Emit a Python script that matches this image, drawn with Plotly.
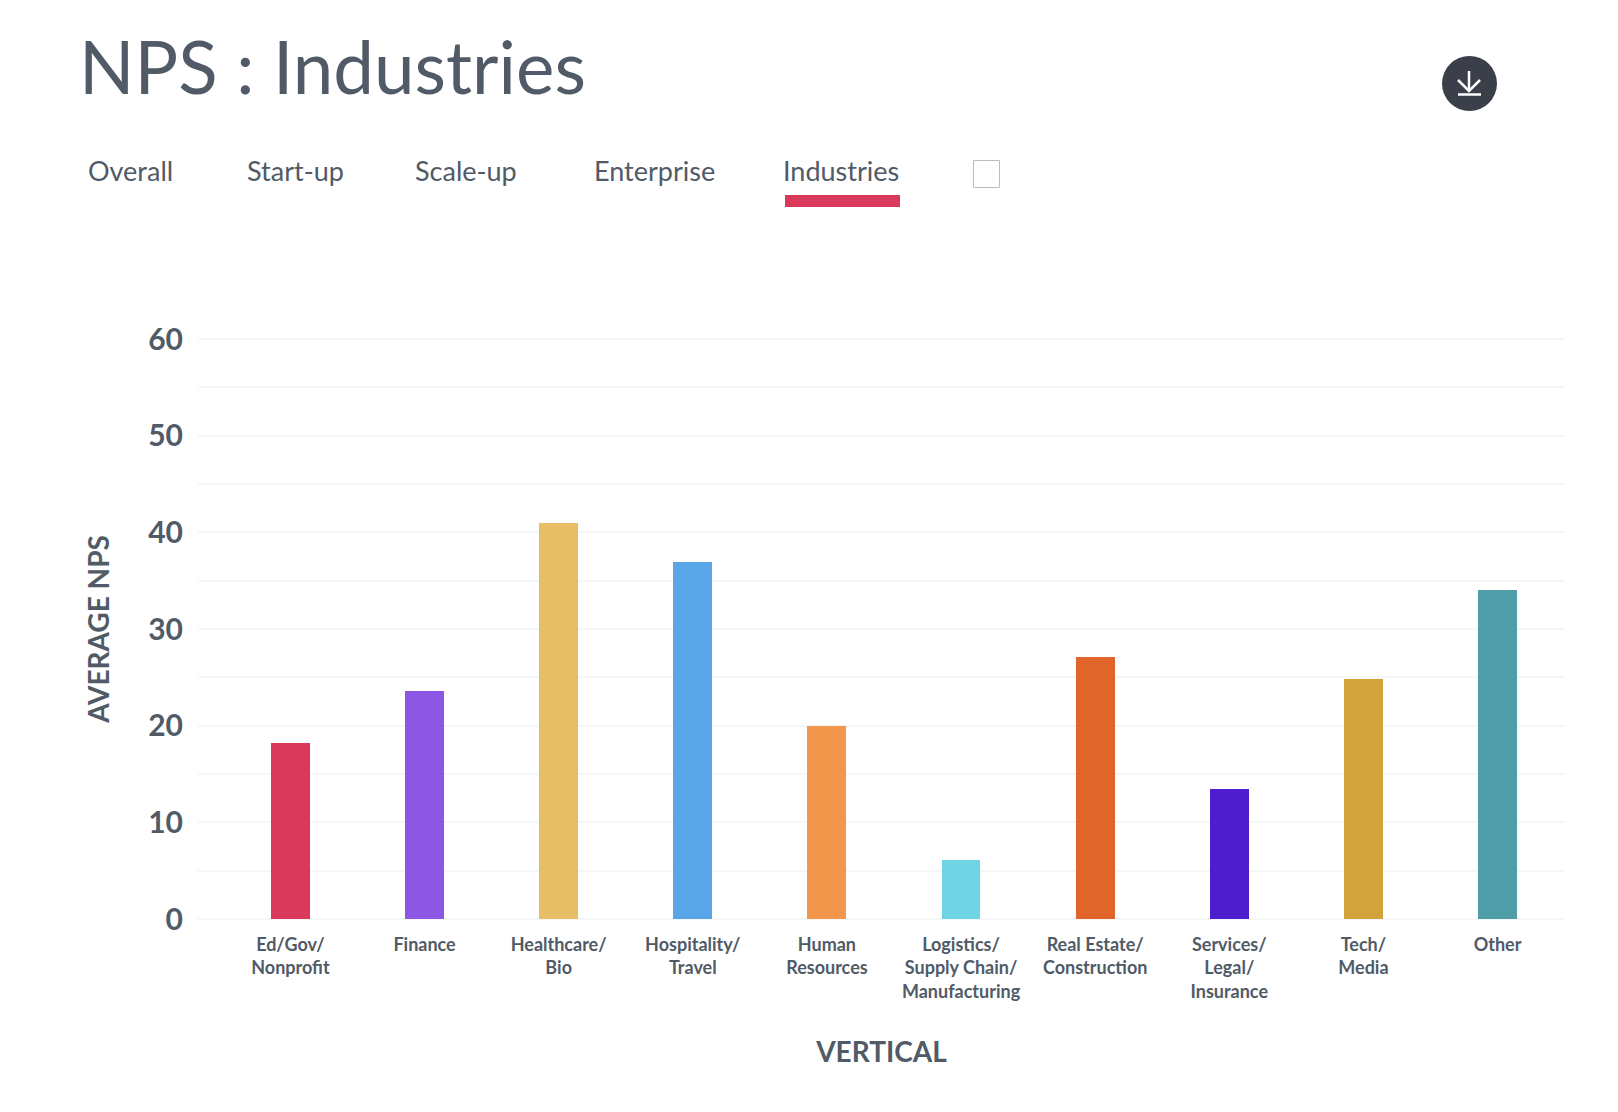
import plotly.graph_objects as go

categories = ["Ed/Gov/<br>Nonprofit", "Finance", "Healthcare/<br>Bio", "Hospitality/<br>Travel",
              "Human<br>Resources", "Logistics/<br>Supply Chain/<br>Manufacturing",
              "Real Estate/<br>Construction", "Services/<br>Legal/<br>Insurance", "Tech/<br>Media", "Other"]
values = [18.2, 23.6, 41.0, 36.9, 20.0, 6.1, 27.1, 13.5, 24.8, 34.0]
colors = ["#DB395C", "#8C57E4", "#E7BE65", "#58A6E7", "#F2974C", "#6FD5E5", "#E0652B", "#4D1ECC", "#D2A33A", "#4E9DA9"]
tabs = ["Overall", "Start-up", "Scale-up", "Enterprise", "Industries"]
tab_x = [85.5, 244.5, 412.5, 591.5, 781]
ytick_vals = [0, 10, 20, 30, 40, 50, 60]

W, H = 1618, 1112
L, R, T, B = 198, 1565, 336, 922
TEXT = "#505B67"
FONT = "Lato"


def px(x):
    return (x - L) / (R - L)


def py(y):
    return (B - y) / (B - T)


fig = go.Figure(go.Bar(x=list(range(len(values))), y=values, marker=dict(color=colors, line_width=0), width=0.29))

annotations = [dict(text="NPS : Industries", x=px(77), y=py(111), xref="paper", yref="paper", xanchor="left",
                    yanchor="bottom", showarrow=False,
                    font=dict(family=FONT, size=72.7, color=TEXT, weight=400))]
for t, x in zip(tabs, tab_x):
    annotations.append(dict(text=t, x=px(x), y=py(170), xref="paper", yref="paper", xanchor="left", yanchor="middle",
                            showarrow=False, font=dict(family=FONT, size=27, color=TEXT, weight=400)))

shapes = [
    dict(type="rect", xref="paper", yref="paper", x0=px(785), x1=px(900), y0=py(195), y1=py(207),
         fillcolor="#DB395C", line_width=0),
    dict(type="rect", xref="paper", yref="paper", x0=px(973.5), x1=px(999.5), y0=py(160.5), y1=py(187.5),
         fillcolor="white", line=dict(color="#B9BDC2", width=1)),
    dict(type="circle", xref="paper", yref="paper", x0=px(1442), x1=px(1497), y0=py(56), y1=py(111),
         fillcolor="#3A3F4A", line_width=0),
    dict(type="line", xref="paper", yref="paper", x0=px(1469), x1=px(1469), y0=py(71), y1=py(91),
         line=dict(color="white", width=2.5)),
    dict(type="path", xref="paper", yref="paper",
         path=f"M {px(1458)} {py(80)} L {px(1469)} {py(91)} L {px(1480)} {py(80)}",
         line=dict(color="white", width=2.5)),
    dict(type="line", xref="paper", yref="paper", x0=px(1458), x1=px(1481), y0=py(94.5), y1=py(94.5),
         line=dict(color="white", width=2.5)),
]

fig.update_layout(
    width=W, height=H, margin=dict(l=L, r=W - R, t=T, b=H - B), autosize=False,
    paper_bgcolor="white", plot_bgcolor="white", showlegend=False, bargap=0,
    font=dict(family=FONT, color=TEXT),
    annotations=annotations, shapes=shapes,
    xaxis=dict(range=[-0.689, 9.503], tickmode="array", tickvals=list(range(len(categories))), ticktext=categories,
               tickangle=0, showgrid=False, zeroline=False, showline=False, ticks="", ticklabelstandoff=10,
               tickfont=dict(family=FONT, size=18, color=TEXT, weight=700),
               title=dict(text="VERTICAL", font=dict(family=FONT, size=28, color=TEXT, weight=700), standoff=41)),
    yaxis=dict(range=[-0.31, 60.31], tickmode="array", tickvals=ytick_vals, ticks="", ticklabelstandoff=14,
               showgrid=True, gridcolor="#F5F6F7", gridwidth=2, zeroline=False, showline=False,
               minor=dict(showgrid=True, gridcolor="#F5F6F7", gridwidth=2, tickvals=[5, 15, 25, 35, 45, 55]),
               tickfont=dict(family=FONT, size=30, color=TEXT, weight=700),
               title=dict(text="AVERAGE NPS", font=dict(family=FONT, size=28, color=TEXT, weight=700), standoff=30)),
)

fig.write_html("out.html", config=dict(displayModeBar=False),
               post_script="document.body.style.margin='0';document.body.style.overflow='hidden';")
